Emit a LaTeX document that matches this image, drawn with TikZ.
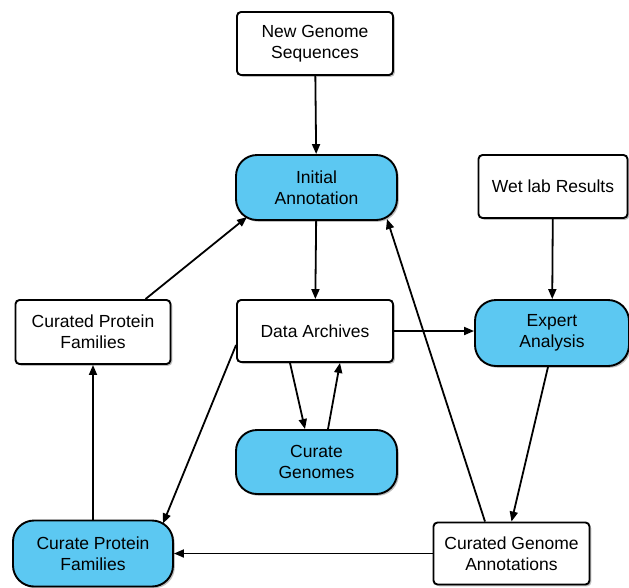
\documentclass[tikz,border=0pt]{standalone}
\usepackage{fontspec}
\setmainfont{Liberation Sans}
\usepackage{xcolor}
\usetikzlibrary{arrows.meta,shadows}

\definecolor{annblue}{RGB}{92,200,242}

\begin{document}
\begin{tikzpicture}[x=1pt, y=-1pt,
    link/.style={-{Triangle[length=10pt,width=8pt]}, line width=1.8pt},
    item/.style={rectangle, draw, line width=1.9pt, fill=white, rounded corners=4pt, align=center,
      inner sep=0pt, font=\fontsize{17.5}{21}\selectfont,
      drop shadow={shadow xshift=1.8pt, shadow yshift=-1.8pt, opacity=0.5}},
    task/.style={item, fill=annblue, rounded corners=21pt}]
    \useasboundingbox (0, 0) rectangle (629, 587);

    \node [item, minimum width=156pt, minimum height=63pt] (newseq) at (315, 43.5) {New Genome\\Sequences};
    \node [task, minimum width=161pt, minimum height=65pt] (initann) at (316.5, 187.5) {Initial\\Annotation};
    \node [item, minimum width=149pt, minimum height=63pt] (wetlab) at (553, 186.5) {Wet lab Results};
    \node [item, minimum width=155pt, minimum height=64pt] (curprot) at (93, 332) {Curated Protein\\Families};
    \node [item, minimum width=156pt, minimum height=62pt] (data) at (315, 331) {Data Archives};
    \node [task, minimum width=154pt, minimum height=66pt] (expert) at (552, 333) {Expert\\Analysis};
    \node [task, minimum width=161pt, minimum height=64pt] (curgen) at (316.5, 462) {Curate\\Genomes};
    \node [task, minimum width=160pt, minimum height=66pt] (curprotfam) at (93, 553.5) {Curate Protein\\Families};
    \node [item, minimum width=156pt, minimum height=62pt] (curgenann) at (511.5, 553.5) {Curated Genome\\Annotations};

    \draw [link] (newseq) -- (initann);
    \draw [link] (initann) -- (data);
    \draw [link] (wetlab) -- (expert);
    \draw [link] (data.east) -- (data.east -| expert.west);
    \draw [link] ([xshift=-25pt]data.south) -- ([xshift=-11.5pt]curgen.north);
    \draw [link] ([xshift=11.5pt]curgen.north) -- ([xshift=25pt]data.south);
    \draw [link] ([xshift=52.5pt]curprot.north) -- ([xshift=-69.5pt,yshift=-29.5pt]initann.center);
    \draw [link] ([yshift=-14pt]data.west) -- ([xshift=70pt,yshift=30pt]curprotfam.center);
    \draw [link] (curprotfam) -- (curprot);
    \draw [link] (curgenann.west) -- (curprotfam.east);
    \draw [link] ([xshift=-4pt]expert.south) -- (curgenann.north);
    \draw [link] ([xshift=-26.5pt]curgenann.north) -- ([xshift=70.5pt,yshift=-31.5pt]initann.center);
  \end{tikzpicture}
\end{document}
